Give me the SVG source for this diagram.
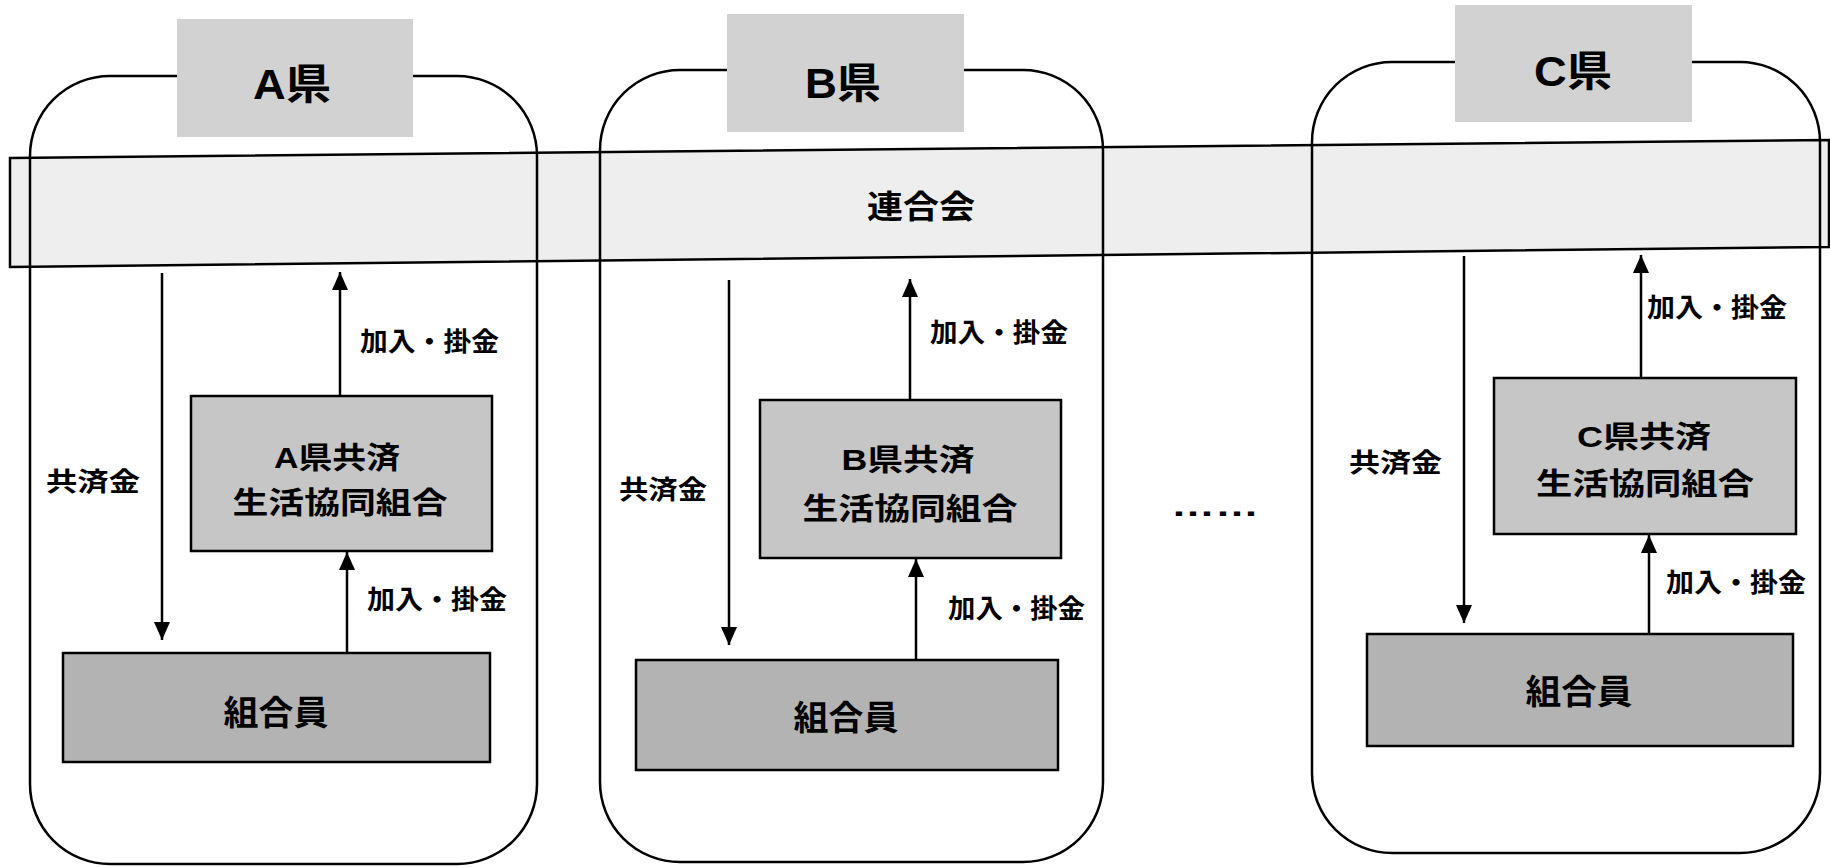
<svg xmlns="http://www.w3.org/2000/svg" width="1830" height="867" viewBox="0 0 1830 867">
<style>
  text { font-family: "Liberation Sans", "Noto Sans CJK JP", sans-serif; font-weight: bold; fill: #000; dominant-baseline: central; text-anchor: middle; }
  .container { fill: none; stroke: #000; stroke-width: 2.5; }
  .pref { fill: #d2d2d2; stroke: none; }
  .coop { fill: #c6c6c6; stroke: #000; stroke-width: 2.5; }
  .member { fill: #b3b3b3; stroke: #000; stroke-width: 2.5; }
  .band { fill: #eeeeee; stroke: #000; stroke-width: 2.5; }
  .arrow { stroke: #000; stroke-width: 2.5; fill: none; marker-end: url(#ah); }
  .lbl { font-size: 26px; text-anchor: start; }
  .pt { font-size: 42px; }
  .ct { font-size: 30px; }
  .mt { font-size: 34px; }
</style>
<defs>
  <marker id="ah" markerUnits="userSpaceOnUse" markerWidth="18" markerHeight="20" refX="18" refY="8" orient="auto">
    <path d="M0,0 L18,8 L0,16 Z" fill="#000"/>
  </marker>
</defs>
<rect width="1830" height="867" fill="#fff"/>

<g id="rengokai">
  <polygon class="band" points="10,158 1829,140 1829,247 10,267"/>
  <text x="921" y="207" font-size="32" textLength="108" lengthAdjust="spacingAndGlyphs">連合会</text>
</g>

<g id="pref-a-frame"><rect class="container" x="30" y="76" width="507" height="788" rx="80" ry="80"/></g>
<g id="pref-b-frame"><rect class="container" x="600" y="70" width="503" height="792" rx="80" ry="80"/></g>
<g id="pref-c-frame"><rect class="container" x="1312" y="62" width="508" height="791" rx="80" ry="80"/></g>

<g id="pref-a-label">
  <rect class="pref" x="177" y="19" width="236" height="118"/>
  <text class="pt" x="292" y="84" textLength="78" lengthAdjust="spacingAndGlyphs">A県</text>
</g>
<g id="pref-b-label">
  <rect class="pref" x="727" y="14" width="237" height="118"/>
  <text class="pt" x="843" y="83" textLength="76" lengthAdjust="spacingAndGlyphs">B県</text>
</g>
<g id="pref-c-label">
  <rect class="pref" x="1455" y="5" width="237" height="117"/>
  <text class="pt" x="1573" y="71" textLength="78" lengthAdjust="spacingAndGlyphs">C県</text>
</g>

<g id="coop-a">
  <rect class="coop" x="191" y="396" width="301" height="155"/>
  <text class="ct" x="337" y="457" textLength="126" lengthAdjust="spacingAndGlyphs">A県共済</text>
  <text class="ct" x="340" y="502" textLength="215" lengthAdjust="spacingAndGlyphs">生活協同組合</text>
</g>
<g id="coop-b">
  <rect class="coop" x="760" y="400" width="301" height="158"/>
  <text class="ct" x="908" y="459" textLength="133" lengthAdjust="spacingAndGlyphs">B県共済</text>
  <text class="ct" x="910" y="508" textLength="215" lengthAdjust="spacingAndGlyphs">生活協同組合</text>
</g>
<g id="coop-c">
  <rect class="coop" x="1494" y="378" width="302" height="156"/>
  <text class="ct" x="1644" y="436" textLength="134" lengthAdjust="spacingAndGlyphs">C県共済</text>
  <text class="ct" x="1645" y="483" textLength="218" lengthAdjust="spacingAndGlyphs">生活協同組合</text>
</g>

<g id="members-a">
  <rect class="member" x="63" y="653" width="427" height="109"/>
  <text class="mt" x="276" y="713" textLength="105" lengthAdjust="spacingAndGlyphs">組合員</text>
</g>
<g id="members-b">
  <rect class="member" x="636" y="660" width="422" height="110"/>
  <text class="mt" x="846" y="718" textLength="105" lengthAdjust="spacingAndGlyphs">組合員</text>
</g>
<g id="members-c">
  <rect class="member" x="1367" y="634" width="426" height="112"/>
  <text class="mt" x="1579" y="692" textLength="107" lengthAdjust="spacingAndGlyphs">組合員</text>
</g>

<g id="connectors">
  <line class="arrow" x1="162" y1="273" x2="162" y2="640"/>
  <line class="arrow" x1="340" y1="396" x2="340" y2="272"/>
  <line class="arrow" x1="347" y1="653" x2="347" y2="552"/>
  <line class="arrow" x1="729" y1="280" x2="729" y2="645"/>
  <line class="arrow" x1="910" y1="400" x2="910" y2="279"/>
  <line class="arrow" x1="916" y1="660" x2="916" y2="559"/>
  <line class="arrow" x1="1464" y1="256" x2="1464" y2="623"/>
  <line class="arrow" x1="1641" y1="378" x2="1641" y2="255"/>
  <line class="arrow" x1="1649" y1="634" x2="1649" y2="535"/>
  <text class="lbl" x="46" y="482" textLength="94" lengthAdjust="spacingAndGlyphs">共済金</text>
  <text class="lbl" x="360" y="342" textLength="139" lengthAdjust="spacingAndGlyphs">加入・掛金</text>
  <text class="lbl" x="367" y="600" textLength="140" lengthAdjust="spacingAndGlyphs">加入・掛金</text>
  <text class="lbl" x="619" y="490" textLength="88" lengthAdjust="spacingAndGlyphs">共済金</text>
  <text class="lbl" x="930" y="333" textLength="138" lengthAdjust="spacingAndGlyphs">加入・掛金</text>
  <text class="lbl" x="948" y="609" textLength="137" lengthAdjust="spacingAndGlyphs">加入・掛金</text>
  <text class="lbl" x="1349" y="463" textLength="93" lengthAdjust="spacingAndGlyphs">共済金</text>
  <text class="lbl" x="1647" y="308" textLength="140" lengthAdjust="spacingAndGlyphs">加入・掛金</text>
  <text class="lbl" x="1666" y="583" textLength="140" lengthAdjust="spacingAndGlyphs">加入・掛金</text>
</g>

<g id="ellipsis">
  <text x="1215" y="505" font-size="30" textLength="88" lengthAdjust="spacingAndGlyphs">……</text>
</g>
</svg>
